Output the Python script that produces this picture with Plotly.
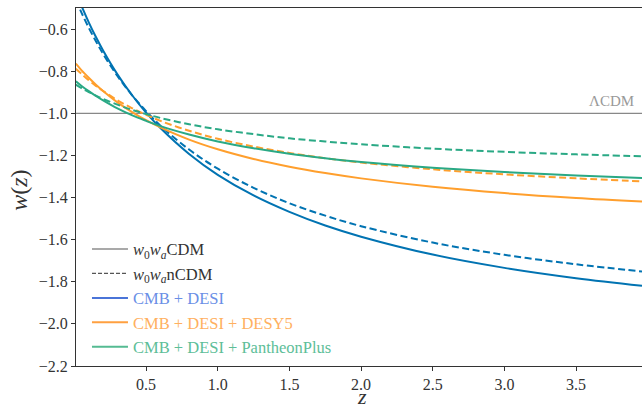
import plotly.graph_objects as go

# redshift sample points
z = [0.01, 0.05, 0.1, 0.15, 0.2, 0.3, 0.4, 0.5, 0.6, 0.8, 1.0, 1.25, 1.5, 1.75, 2.0, 2.5, 3.0, 3.5, 3.96]

# w(z) (solid = w0waCDM, dashed = w0wanCDM)
desi_cpl = [-0.425, -0.491, -0.568, -0.638, -0.702, -0.815, -0.912, -0.997, -1.070, -1.193, -1.292,
            -1.390, -1.468, -1.533, -1.586, -1.671, -1.734, -1.783, -1.819]
desi_n = [-0.461, -0.523, -0.594, -0.658, -0.718, -0.823, -0.912, -0.990, -1.059, -1.172, -1.263,
          -1.354, -1.427, -1.486, -1.536, -1.614, -1.672, -1.717, -1.751]
desy5_cpl = [-0.764, -0.796, -0.831, -0.864, -0.894, -0.948, -0.993, -1.033, -1.067, -1.125, -1.171,
             -1.217, -1.254, -1.284, -1.309, -1.349, -1.379, -1.402, -1.419]
desy5_n = [-0.788, -0.813, -0.843, -0.870, -0.894, -0.938, -0.975, -1.007, -1.036, -1.083, -1.121,
           -1.158, -1.188, -1.213, -1.234, -1.266, -1.290, -1.309, -1.323]
pp_cpl = [-0.848, -0.870, -0.895, -0.918, -0.939, -0.977, -1.009, -1.036, -1.061, -1.101, -1.134,
          -1.166, -1.192, -1.213, -1.231, -1.258, -1.279, -1.295, -1.307]
pp_n = [-0.864, -0.881, -0.899, -0.916, -0.932, -0.959, -0.983, -1.004, -1.022, -1.052, -1.076,
        -1.099, -1.119, -1.134, -1.147, -1.168, -1.183, -1.195, -1.204]

lcdm_w = -1.0

series_names = ["CMB + DESI", "CMB + DESI + DESY5", "CMB + DESI + PantheonPlus"]
model_names = ["<i>w</i><sub>0</sub><i>w<sub>a</sub></i>CDM", "<i>w</i><sub>0</sub><i>w<sub>a</sub></i>nCDM"]

x_tickvals = [0.5, 1.0, 1.5, 2.0, 2.5, 3.0, 3.5]
x_ticktext = ["0.5", "1.0", "1.5", "2.0", "2.5", "3.0", "3.5"]
y_tickvals = [-2.2, -2.0, -1.8, -1.6, -1.4, -1.2, -1.0, -0.8, -0.6]
y_ticktext = ["\u22122.2", "\u22122.0", "\u22121.8", "\u22121.6", "\u22121.4", "\u22121.2",
              "\u22121.0", "\u22120.8", "\u22120.6"]

curve_colors = ["#0173B2", "#FF9F2D", "#2AA985"]
legend_line_colors = ["#4A74D8", "#FFA040", "#55BB92"]
legend_text_colors = ["#6A8FE6", "#FFB060", "#5DBE98"]

FONT = "Liberation Serif, DejaVu Serif, serif"

fig = go.Figure()

# horizontal LCDM line
fig.add_trace(go.Scatter(x=[0.0, 4.2], y=[lcdm_w, lcdm_w], mode="lines",
                         line=dict(color="#888888", width=1.3), showlegend=False, hoverinfo="skip"))

solid = [desi_cpl, desy5_cpl, pp_cpl]
dashed = [desi_n, desy5_n, pp_n]
for i in range(3):
    fig.add_trace(go.Scatter(x=z, y=solid[i], mode="lines", line=dict(color=curve_colors[i], width=2, shape="spline"),
                             showlegend=False))
    fig.add_trace(go.Scatter(x=z, y=dashed[i], mode="lines",
                             line=dict(color=curve_colors[i], width=2, dash="7px,3.5px", shape="spline"),
                             showlegend=False))

# legend entries
fig.add_trace(go.Scatter(x=[None], y=[None], mode="lines", line=dict(color="#555555", width=1.2),
                         name=f'<span style="color:#333333">{model_names[0]}</span>'))
fig.add_trace(go.Scatter(x=[None], y=[None], mode="lines", line=dict(color="#555555", width=1.2, dash="4px,2px"),
                         name=f'<span style="color:#333333">{model_names[1]}</span>'))
for i in range(3):
    fig.add_trace(go.Scatter(x=[None], y=[None], mode="lines", line=dict(color=legend_line_colors[i], width=2),
                             name=f'<span style="color:{legend_text_colors[i]}">{series_names[i]}</span>'))

fig.update_layout(
    width=643, height=408,
    margin=dict(l=76, r=1, t=8, b=42),
    paper_bgcolor="white", plot_bgcolor="white",
    font=dict(family=FONT, size=16, color="#333333"),
    legend=dict(x=0.0194, y=0.375, xanchor="left", yanchor="top", bgcolor="rgba(0,0,0,0)",
                borderwidth=0, font=dict(family=FONT, size=16.5), tracegroupgap=0, itemwidth=36),
    xaxis=dict(range=[0.011, 3.96], tickvals=x_tickvals, ticktext=x_ticktext, showgrid=False, zeroline=False,
               showline=True, linecolor="#333333", linewidth=1.2, mirror=True, ticks="outside", ticklen=4,
               tickcolor="#333333", tickfont=dict(family=FONT, size=16, color="#333333")),
    yaxis=dict(range=[-2.2, -0.5], tickvals=y_tickvals, ticktext=y_ticktext, showgrid=False, zeroline=False,
               showline=True, linecolor="#333333", linewidth=1.2, ticks="outside", ticklen=4,
               tickcolor="#333333", tickfont=dict(family=FONT, size=16, color="#333333")),
    annotations=[
        dict(text="\u039bCDM", x=0.99, y=lcdm_w, xref="paper", yref="y", xanchor="right", yanchor="bottom",
             yshift=2, showarrow=False, font=dict(family=FONT, size=15, color="#999999")),
        dict(text="<i>w</i>(<i>z</i>)", x=-0.102, y=0.49, xref="paper", yref="paper", textangle=-90,
             xanchor="center", showarrow=False, font=dict(family=FONT, size=24, color="#333333")),
        dict(text="<i>z</i>", x=0.506, y=-0.086, xref="paper", yref="paper", yanchor="middle",
             showarrow=False, font=dict(family=FONT, size=22, color="#333333")),
    ],
)

# remove the default page margin so the figure sits at the window's top-left corner
fig.write_html("out.html", config={"displayModeBar": False},
               post_script="document.body.style.margin='0';document.body.style.overflow='hidden';")
